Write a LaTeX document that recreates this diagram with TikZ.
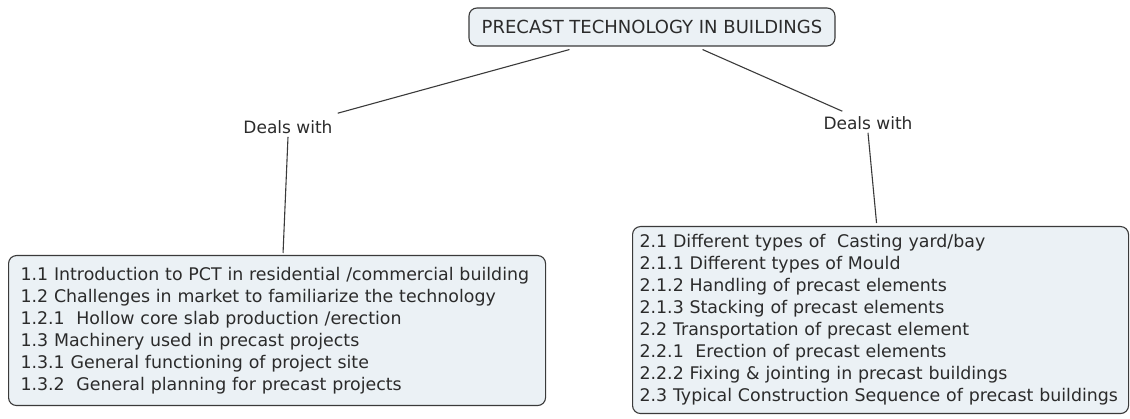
\documentclass[tikz,border=0pt]{standalone}
\usepackage{fontspec}
\setmainfont{DejaVu Sans}
\usetikzlibrary{calc,positioning}
\definecolor{mapInk}{HTML}{2B2B2B}
\definecolor{mapEdge}{HTML}{3A3A3A}
\definecolor{mapFill}{HTML}{EBF1F5}
\tikzset{
  every node/.style={font=\fontsize{17}{22}\selectfont, text=mapInk},
  concept/.style={
    rounded corners=8pt,
    draw=mapEdge,
    line width=1.1pt,
    fill=mapFill
  },
  rootbox/.style={
    concept,
    font=\fontsize{18}{22}\selectfont,
    minimum width=366pt,
    minimum height=38pt,
    inner sep=0pt
  },
  topicbox/.style={
    concept,
    font=\fontsize{17.4}{22}\selectfont,
    align=left,
    inner ysep=0pt
  },
  linklabel/.style={inner sep=0pt},
  link/.style={line width=1.1pt, draw=mapEdge}
}

\begin{document}
\begin{tikzpicture}[x=1pt, y=-1pt]
  \useasboundingbox (0,0) rectangle (1130,419);

  \node[rootbox] (root) at (652,27) {PRECAST TECHNOLOGY IN BUILDINGS};

  \node[linklabel] (dealsL) at (288,127) {Deals with};
  \node[linklabel] (dealsR) at (868,123) {Deals with};

  \node[topicbox, anchor=north west, text width=513pt, inner xsep=12pt,
        minimum height=150pt] (boxL) at (8,255) {
    1.1 Introduction to PCT in residential /commercial building\\
    1.2 Challenges in market to familiarize the technology\\
    1.2.1\ \ Hollow core slab production /erection\\
    1.3 Machinery used in precast projects\\
    1.3.1 General functioning of project site\\
    1.3.2\ \ General planning for precast projects
  };
  \node[topicbox, anchor=north west, text width=482pt, inner xsep=7pt,
        minimum height=187pt] (boxR) at (632,226) {
    2.1 Different types of\ \ Casting yard/bay\\
    2.1.1 Different types of Mould\\
    2.1.2 Handling of precast elements\\
    2.1.3 Stacking of precast elements\\
    2.2 Transportation of precast element\\
    2.2.1\ \ Erection of precast elements\\
    2.2.2 Fixing \& jointing in precast buildings\\
    2.3 Typical Construction Sequence of precast buildings
  };

  % links from the root to the two labels
  \draw[link] ([xshift=101pt,yshift=-3pt]root.south west)
    -- ([xshift=5pt,yshift=7pt]dealsL.north east);
  \draw[link] ([xshift=-133pt,yshift=-3pt]root.south east)
    -- ([xshift=19pt,yshift=5pt]dealsR.north west);
  % links from the labels down to the boxes
  \draw[link] ([yshift=-3pt]dealsL.south) -- ([xshift=6pt,yshift=2pt]boxL.north);
  \draw[link] ([yshift=-3pt]dealsR.south) -- ([xshift=-4pt,yshift=3pt]boxR.north);
\end{tikzpicture}
\end{document}
